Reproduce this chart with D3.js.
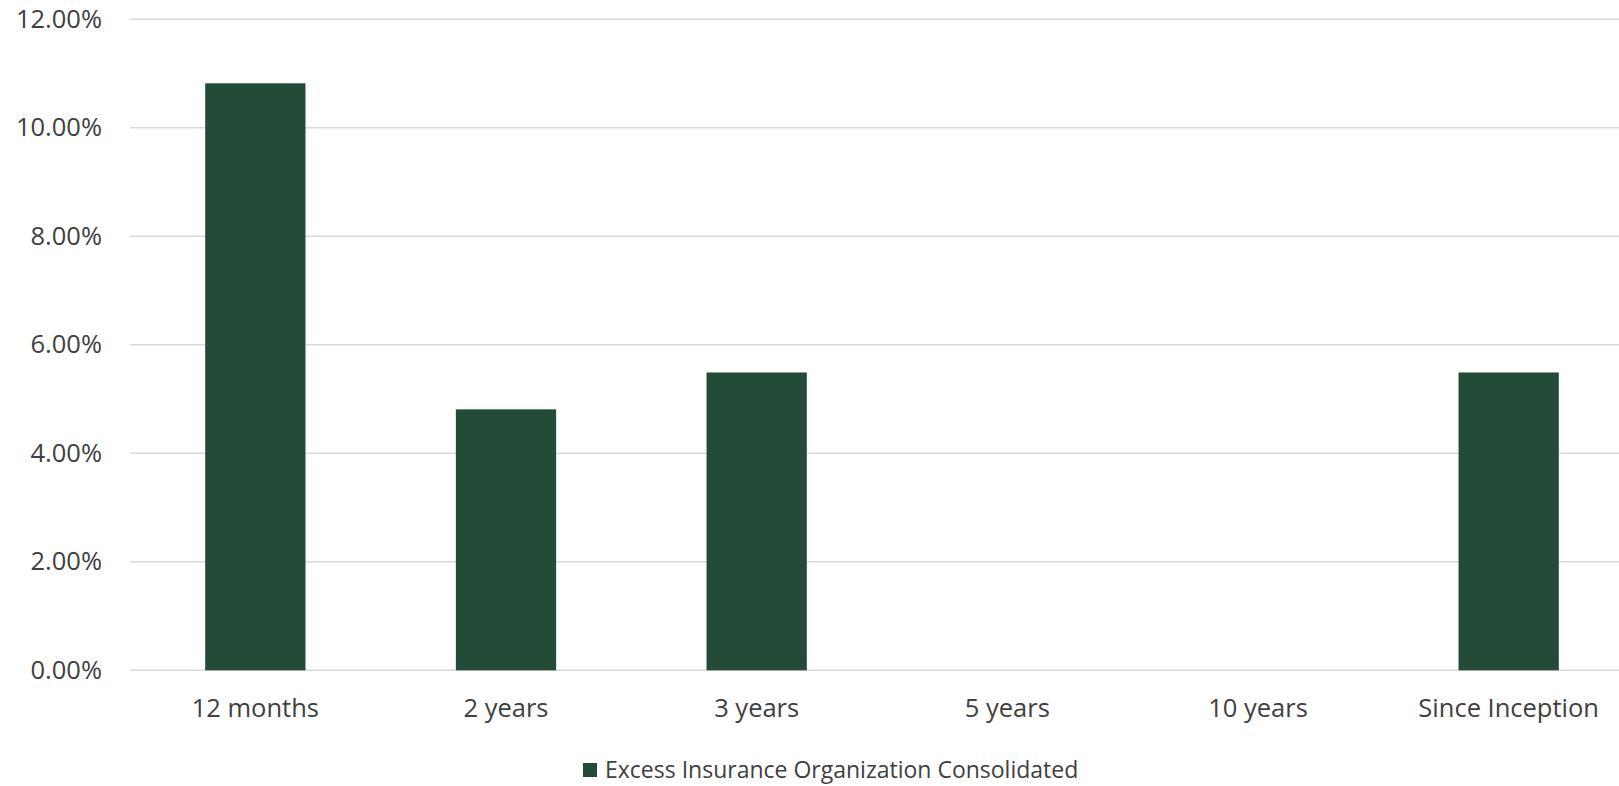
<!DOCTYPE html>
<html>
<head>
<meta charset="utf-8">
<script src="https://cdn.jsdelivr.net/npm/d3@7"></script>
<style>
  html, body { margin: 0; padding: 0; background: #ffffff; overflow: hidden; }
  svg { display: block; font-family: "Open Sans", "Noto Sans", sans-serif; }
</style>
</head>
<body>
<svg id="chart" width="1619" height="786"></svg>
<script>
// Annualized returns by period
const categories = ["12 months", "2 years", "3 years", "5 years", "10 years", "Since Inception"];
const returns = [0.1082, 0.0481, 0.0549, null, null, 0.0549];
const yTicks = [0, 0.02, 0.04, 0.06, 0.08, 0.10, 0.12];
const seriesName = "Excess Insurance Organization Consolidated";

const W = 1619, H = 786;
const barColor = "#224b38";
const textColor = "#404040";
const gridColor = "#d9d9d9";

const svg = d3.select("#chart");

const x = d3.scaleBand()
  .domain(categories)
  .range([130, 1634])
  .paddingInner(0.6)
  .paddingOuter(0.3);

const y = d3.scaleLinear()
  .domain([0, 0.12])
  .range([670.3, 19.3]);

// Horizontal gridlines
svg.append("g")
  .selectAll("line")
  .data(yTicks)
  .join("line")
  .attr("x1", 130)
  .attr("x2", W)
  .attr("y1", d => y(d))
  .attr("y2", d => y(d))
  .attr("stroke", gridColor)
  .attr("stroke-width", 1.5);

// Y axis labels
const yAxis = d3.axisLeft(y)
  .tickValues(yTicks)
  .tickFormat(d3.format(".2%"))
  .tickSize(0)
  .tickPadding(0);

svg.append("g")
  .attr("transform", "translate(102,0)")
  .call(yAxis)
  .call(g => g.select(".domain").remove())
  .call(g => g.selectAll("text")
    .attr("fill", textColor)
    .attr("font-size", 25.5)
    .attr("font-family", "Open Sans"));

// Bars
svg.append("g")
  .selectAll("rect")
  .data(categories.map((c, i) => ({ c, v: returns[i] })).filter(d => d.v != null))
  .join("rect")
  .attr("x", d => x(d.c))
  .attr("width", x.bandwidth())
  .attr("y", d => y(d.v))
  .attr("height", d => y(0) - y(d.v))
  .attr("fill", barColor);

// X axis labels
const xAxis = d3.axisBottom(x).tickSize(0).tickPadding(0);
svg.append("g")
  .attr("transform", "translate(0,699)")
  .call(xAxis)
  .call(g => g.select(".domain").remove())
  .call(g => g.selectAll("text")
    .attr("fill", textColor)
    .attr("font-size", 25.5)
    .attr("font-family", "Open Sans")
    .attr("dy", "0.71em"));

// Legend
const legend = svg.append("g").attr("transform", "translate(583,763)");
legend.append("rect")
  .attr("width", 14)
  .attr("height", 14)
  .attr("fill", barColor);
legend.append("text")
  .attr("x", 22)
  .attr("y", 7)
  .attr("dy", "0.35em")
  .attr("fill", textColor)
  .attr("font-size", 23)
  .text(seriesName);
</script>
</body>
</html>
